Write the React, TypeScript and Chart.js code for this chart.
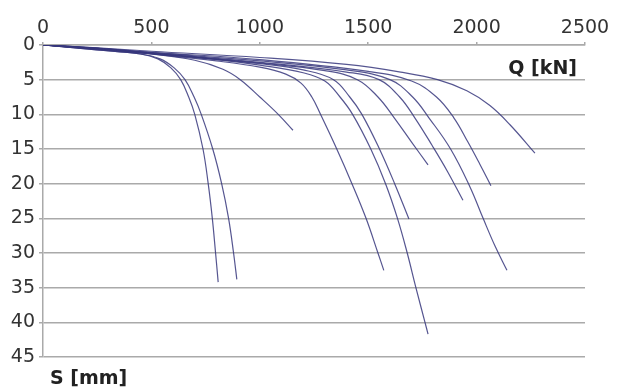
import React, { useEffect, useRef } from "react";
import { Chart, registerables } from "chart.js";

Chart.register(...registerables);

// Axis ticks
const qTicks = [0, 500, 1000, 1500, 2000, 2500];
const sTicks = [0, 5, 10, 15, 20, 25, 30, 35, 40, 45];
const qLabel = "Q [kN]";
const sLabel = "S [mm]";

// Load-settlement curves: Q [kN] and S [mm]
const qA = [0, 250, 450, 530, 590, 635, 672, 700, 738, 762, 781, 796, 808];
const sA = [0, 0.7, 1.3, 2.0, 3.3, 5, 7.5, 10, 15, 20, 25, 30, 34.2];

const qB = [0, 250, 450, 540, 605, 655, 697, 730, 783, 824, 856, 879, 894];
const sB = [0, 0.7, 1.3, 2.0, 3.3, 5, 7.5, 10, 15, 20, 25, 30, 33.8];

const qC = [0, 250, 500, 700, 830, 910, 1000, 1085, 1153];
const sC = [0, 0.6, 1.3, 2.2, 3.5, 5, 7.5, 10, 12.3];

const qD = [0, 250, 500, 800, 1000, 1120, 1190, 1240, 1280, 1355, 1425, 1490, 1545, 1572];
const sD = [0, 0.55, 1.3, 2.3, 3.2, 4.2, 5.5, 7.5, 10, 15, 20, 25, 30, 32.5];

const qE = [0, 250, 500, 800, 1000, 1200, 1300, 1370, 1428, 1512, 1580, 1635, 1680, 1720, 1762, 1776];
const sE = [0, 0.55, 1.25, 2.1, 2.9, 4.0, 5.2, 7.5, 10, 15, 20, 25, 30, 35, 40, 41.7];

const qF = [0, 250, 500, 1000, 1200, 1340, 1415, 1471, 1552, 1622, 1688];
const sF = [0, 0.55, 1.2, 2.7, 3.6, 5, 7.5, 10, 15, 20, 25.1];

const qG = [0, 250, 500, 1000, 1300, 1450, 1545, 1620, 1700, 1776];
const sG = [0, 0.5, 1.2, 2.6, 3.7, 5, 7.5, 10.5, 14, 17.3];

const qH = [0, 250, 500, 1000, 1400, 1550, 1645, 1715, 1795, 1865, 1937];
const sH = [0, 0.5, 1.15, 2.5, 3.9, 5, 7.5, 10.5, 14.5, 18.2, 22.4];

const qI = [0, 250, 500, 1000, 1500, 1700, 1815, 1895, 1960, 2015, 2066];
const sI = [0, 0.45, 1.05, 2.1, 3.8, 5.2, 7.5, 10.5, 14, 17.2, 20.3];

const qJ = [0, 250, 500, 1000, 1400, 1600, 1705, 1780, 1880, 1970, 2030, 2085, 2140];
const sJ = [0, 0.5, 1.1, 2.3, 3.6, 5, 7.5, 10.5, 15, 20.5, 25, 29, 32.5];

const qK = [0, 250, 500, 1000, 1400, 1650, 1820, 1955, 2060, 2154, 2269];
const sK = [0, 0.4, 0.9, 1.8, 2.8, 3.9, 5.0, 6.6, 8.7, 11.5, 15.6];

const curves: [number[], number[]][] = [
  [qA, sA], [qB, sB], [qC, sC], [qD, sD], [qE, sE], [qF, sF],
  [qG, sG], [qH, sH], [qI, sI], [qJ, sJ], [qK, sK],
];

const tickFont = { family: "'DejaVu Sans', sans-serif", size: 19 };

const axisTextPlugin = {
  id: "axisText",
  afterDraw(chart: any) {
    const ctx = chart.ctx;
    ctx.save();
    ctx.fillStyle = "#222";
    ctx.font = "bold 19px 'DejaVu Sans', sans-serif";
    ctx.textBaseline = "middle";
    ctx.textAlign = "right";
    ctx.fillText(qLabel, 577, 69);
    ctx.textAlign = "left";
    ctx.fillText(sLabel, 50, 379);
    ctx.restore();
  },
};

export default function App() {
  const ref = useRef<HTMLCanvasElement | null>(null);
  useEffect(() => {
    if (!ref.current) return;
    const chart = new Chart(ref.current, {
      type: "line",
      data: {
        datasets: curves.map(([q, s], i) => ({
          label: "c" + i,
          data: q.map((v, k) => ({ x: v, y: s[k] })),
          borderColor: "rgba(55,55,125,0.85)",
          borderWidth: 1.2,
          pointRadius: 0,
          fill: false,
          tension: 0.4,
        })),
      },
      options: {
        animation: false,
        responsive: true,
        maintainAspectRatio: false,
        layout: { padding: { left: 0, top: 0, right: 32, bottom: 35 } },
        plugins: { legend: { display: false }, tooltip: { enabled: false } },
        scales: {
          x: {
            type: "linear",
            position: "top",
            min: qTicks[0],
            max: qTicks[qTicks.length - 1],
            afterBuildTicks: (scale: any) => {
              scale.ticks = qTicks.map((v) => ({ value: v }));
            },
            afterFit: (scale: any) => {
              scale.height = 45;
            },
            ticks: { font: tickFont, color: "#333", padding: 3, maxRotation: 0, callback: (v: any) => String(v) },
            grid: { drawOnChartArea: false, drawTicks: true, tickLength: 3, color: "#aaa", lineWidth: 1.5 },
            border: { display: true, color: "#aaa", width: 1.5 },
          },
          y: {
            type: "linear",
            reverse: true,
            min: sTicks[0],
            max: sTicks[sTicks.length - 1],
            afterBuildTicks: (scale: any) => {
              scale.ticks = sTicks.map((v) => ({ value: v }));
            },
            afterFit: (scale: any) => {
              scale.width = 43;
            },
            ticks: { font: tickFont, color: "#333", padding: 4, callback: (v: any) => String(v) },
            grid: { drawOnChartArea: true, drawTicks: true, tickLength: 4, color: "#aaa", lineWidth: 1.5 },
            border: { display: true, color: "#aaa", width: 1.5 },
          },
        },
      },
      plugins: [axisTextPlugin],
    });
    return () => chart.destroy();
  }, []);
  return (
    <div style={{ position: "fixed", left: 0, top: 0, width: 617, height: 392, background: "#fff" }}>
      <canvas ref={ref} />
    </div>
  );
}
